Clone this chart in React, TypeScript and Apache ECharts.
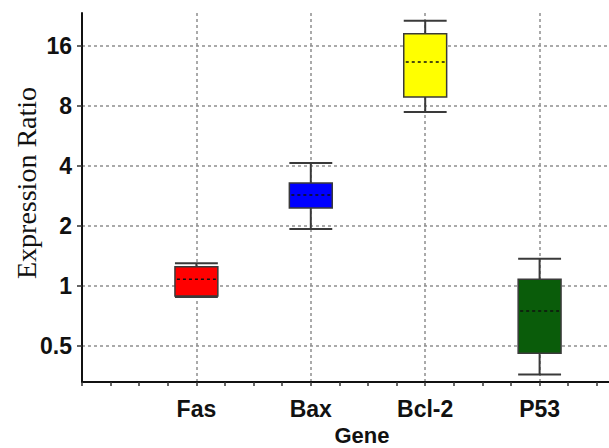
import React, { useEffect, useRef } from "react";
import * as echarts from "echarts";

// Categories (with empty padding slots at both ends of the band)
const categories = ["", "Fas", "Bax", "Bcl-2", "P53", ""];
const genes = ["Fas", "Bax", "Bcl-2", "P53"];
// Box statistics: [low whisker, Q1, median, Q3, high whisker]
const lowWhisker = [0.88, 1.93, 7.46, 0.36];
const q1 = [0.89, 2.46, 8.88, 0.46];
const median = [1.08, 2.86, 13.3, 0.75];
const q3 = [1.25, 3.29, 18.4, 1.08];
const highWhisker = [1.3, 4.14, 21.4, 1.37];
const boxColors = ["#ff0000", "#0000ff", "#ffff00", "#0a5c0a"];
const yTicks = [0.5, 1, 2, 4, 8, 16];

export default function App() {
  const ref = useRef<HTMLDivElement>(null);
  useEffect(() => {
    if (!ref.current) return;
    const chart = echarts.init(ref.current, null, { renderer: "svg" });
    const data = genes.map((g, i) => [
      i + 1,
      lowWhisker[i],
      q1[i],
      median[i],
      q3[i],
      highWhisker[i],
    ]);
    const gridLine = { color: "#8f8f8f", width: 1.5, type: [3, 3] as number[] };
    const labelFont = {
      fontFamily: "Liberation Sans",
      fontWeight: "bold" as const,
      fontSize: 23,
      color: "#111",
    };
    chart.setOption({
      animation: false,
      backgroundColor: "#ffffff",
      grid: {
        left: 82,
        top: 13,
        bottom: 66,
        right: -45,
        containLabel: false,
        outerBoundsMode: "none",
      },
      xAxis: [
        {
          type: "category",
          data: categories,
          boundaryGap: false,
          name: "Gene",
          nameLocation: "middle",
          nameGap: 42,
          nameTextStyle: {
            ...labelFont,
            fontSize: 22,
            lineHeight: 22,
            padding: [0, 12, 0, 0],
          },
          axisLine: { show: true, lineStyle: { color: "#111", width: 2 } },
          axisTick: { show: false },
          axisLabel: { ...labelFont, margin: 15 },
          splitLine: { show: true, lineStyle: gridLine },
        },
        {
          type: "value",
          min: 0,
          max: 5,
          interval: 0.25,
          position: "bottom",
          axisLine: { show: false },
          axisTick: { show: true, length: 4, lineStyle: { color: "#333", width: 1.5 } },
          axisLabel: { show: false },
          splitLine: { show: false },
        },
      ],
      yAxis: {
        type: "log",
        logBase: 2,
        min: 0.33,
        max: 23.4,
        axisLine: { show: true, lineStyle: { color: "#111", width: 2 } },
        axisTick: { show: true, length: 5, lineStyle: { color: "#333", width: 1.5 } },
        axisLabel: {
          ...labelFont,
          margin: 10,
          showMinLabel: false,
          showMaxLabel: false,
          formatter: (v: number) => {
            const m = yTicks.find((t) => Math.abs(t - v) < 1e-6);
            return m === undefined ? "" : String(m);
          },
        },
        splitLine: { show: true, showMinLine: false, showMaxLine: false, lineStyle: gridLine },
      },
      graphic: [
        {
          type: "text",
          x: 26,
          y: 183,
          rotation: Math.PI / 2,
          style: {
            text: "Expression Ratio",
            font: "28px 'Liberation Serif'",
            fill: "#111",
            align: "center",
            verticalAlign: "middle",
          },
        },
      ],
      series: [
        {
          type: "custom",
          xAxisIndex: 0,
          yAxisIndex: 0,
          data,
          encode: { x: 0, y: [1, 2, 3, 4, 5] },
          renderItem: (params: any, api: any) => {
            const x = api.value(0);
            const pLow = api.coord([x, api.value(1)]);
            const pQ1 = api.coord([x, api.value(2)]);
            const pMed = api.coord([x, api.value(3)]);
            const pQ3 = api.coord([x, api.value(4)]);
            const pHigh = api.coord([x, api.value(5)]);
            const w = api.size([1, 0])[0] * 0.375;
            const cx = pMed[0];
            const l = cx - w / 2;
            const r = cx + w / 2;
            const stroke = { stroke: "#3a3a3a", lineWidth: 2 };
            return {
              type: "group",
              children: [
                { type: "line", shape: { x1: cx, y1: pHigh[1], x2: cx, y2: pQ3[1] }, style: stroke },
                { type: "line", shape: { x1: cx, y1: pQ1[1], x2: cx, y2: pLow[1] }, style: stroke },
                { type: "line", shape: { x1: l, y1: pHigh[1], x2: r, y2: pHigh[1] }, style: stroke },
                { type: "line", shape: { x1: l, y1: pLow[1], x2: r, y2: pLow[1] }, style: stroke },
                {
                  type: "rect",
                  shape: { x: l, y: pQ3[1], width: w, height: pQ1[1] - pQ3[1] },
                  style: { fill: boxColors[params.dataIndex], stroke: "#3a3a3a", lineWidth: 1.5 },
                },
                {
                  type: "line",
                  shape: { x1: l + 2, y1: pMed[1], x2: r - 2, y2: pMed[1] },
                  style: { stroke: "#111", lineWidth: 1.5, lineDash: [3, 3] },
                },
              ],
            };
          },
        },
      ],
    });
    return () => chart.dispose();
  }, []);
  return (
    <div
      ref={ref}
      style={{ position: "absolute", left: 0, top: 0, width: 609, height: 448 }}
    />
  );
}
